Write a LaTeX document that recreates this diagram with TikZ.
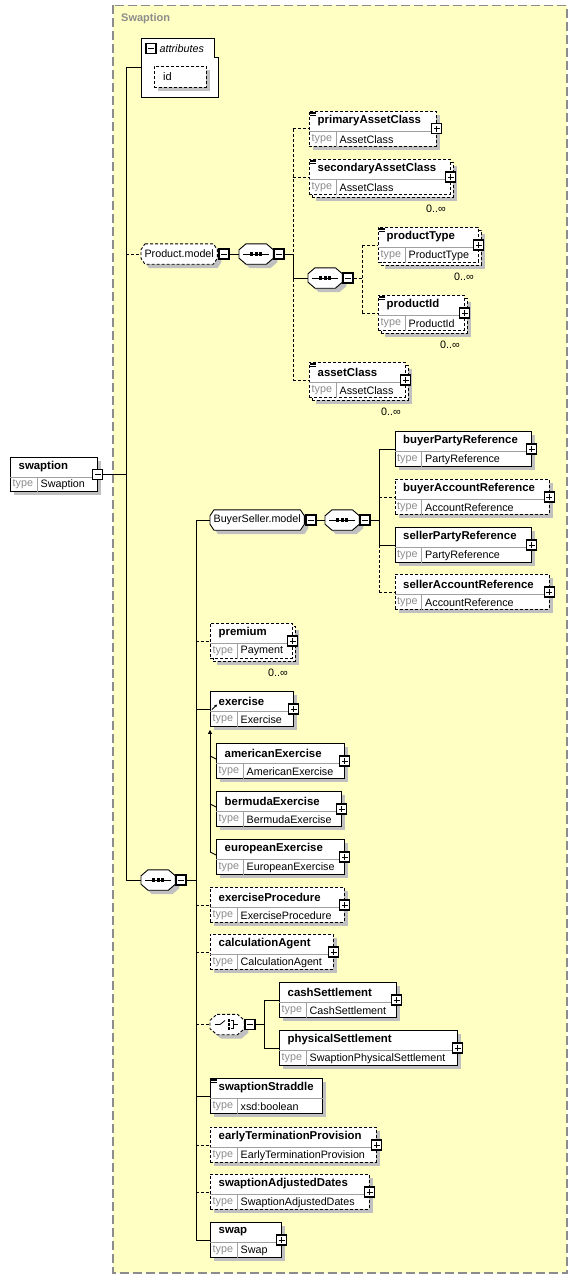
\documentclass[tikz,border=0pt]{standalone}
\usepackage{fontspec}
\setmainfont{Liberation Sans}
\usetikzlibrary{positioning,calc,shadows,arrows.meta}

\definecolor{frameyellow}{HTML}{FFFFC4}
\definecolor{framegray}{HTML}{8C8C8C}
\definecolor{shadowgray}{HTML}{C0C0C0}
\definecolor{typegray}{HTML}{8C8C8C}
\definecolor{linegray}{HTML}{A0A0A0}

% element box: #1 style, #2 name, #3 x, #4 y (top left), #5 width, #6 title, #7 type
\newcommand{\elem}[7][req]{%
  \node[#1,minimum width=#5pt] (#2) at (#3,#4) {};
  \draw[divline] ([yshift=-20pt]#2.north west) -- ([yshift=-20pt]#2.north east);
  \draw[divline] ([xshift=27pt,yshift=-20pt]#2.north west) -- ([xshift=27pt]#2.south west);
  \node[titletext] (#2-t) at ([xshift=8.5pt,yshift=-10pt]#2.north west) {#6};
  \node[typelabel] (#2-l) at ([xshift=2.5pt,yshift=7.5pt]#2.south west) {type};
  \node[typetext] (#2-y) at ([xshift=30.5pt,yshift=7.5pt]#2.south west) {#7};
}
% element with maxOccurs unbounded
\newcommand{\multielem}[6]{%
  \node[opt,minimum width=#4pt] (#1-b) at ({#2+3},{#3+3}) {};
  \elem[optfront]{#1}{#2}{#3}{#4}{#5}{#6}
  \node[occtext] (#1-o) at ([xshift=-15pt,yshift=-13.5pt]#1.south east) {0..∞};
}
\newcommand{\expandbox}[1]{\node[plusbox] (#1-p) at (#1.east) {};}
\newcommand{\simpleicon}[1]{%
  \foreach \dy in {1,2.5,4}
    \draw[line width=0.6pt] ([xshift=1pt,yshift=-\dy pt]#1.north west) -- ++(6,0);
}
\newcommand{\reficon}[1]{%
  \draw[line width=0.8pt,-{Triangle[length=2.5pt,width=2.5pt]}]
    ([xshift=2pt,yshift=-18.5pt]#1.north west) -- ++(5,-5);
}
% octagon outline with shadow round a plain node
\newcommand{\octagon}[4]{%
  \fill[shadowgray,transform canvas={xshift=4pt,yshift=-4pt}]
    ([xshift=#3]#1.north west) -- ([xshift=-#3]#1.north east) -- ([yshift=-#4]#1.north east)
    -- ([yshift=#4]#1.south east) -- ([xshift=-#3]#1.south east) -- ([xshift=#3]#1.south west)
    -- ([yshift=#4]#1.south west) -- ([yshift=-#4]#1.north west) -- cycle;
  \draw[fill=white,line width=0.9pt,#2]
    ([xshift=#3]#1.north west) -- ([xshift=-#3]#1.north east) -- ([yshift=-#4]#1.north east)
    -- ([yshift=#4]#1.south east) -- ([xshift=-#3]#1.south east) -- ([xshift=#3]#1.south west)
    -- ([yshift=#4]#1.south west) -- ([yshift=-#4]#1.north west) -- cycle;
}
% sequence compositor: #1 name, #2 x, #3 y (west)
\newcommand{\seqnode}[3]{%
  \node[grp,minimum width=34pt] (#1) at (#2,#3) {};
  \octagon{#1}{}{7pt}{6pt}
  \draw[line width=0.9pt] ([xshift=4pt]#1.west) -- ([xshift=-4pt]#1.east);
  \foreach \dx in {-4.5,0,4.5}
    \fill ([xshift=\dx pt]#1.center) +(-1.7,-1.7) rectangle +(1.7,1.7);
  \node[minusbox,right=0pt of #1] (#1-m) {};
}
\newcommand{\choiceicon}[1]{%
  \draw[line width=0.8pt] ([xshift=5pt]#1.west) -- ++(5,0) -- ++(5,-4);
  \foreach \dy in {-4,0,4}
    \fill ([xshift=19pt,yshift=\dy pt]#1.west) +(-1.3,-1.3) rectangle +(1.3,1.3);
  \draw[line width=0.8pt] ([xshift=21pt,yshift=4pt]#1.west) -- ++(2,0) -- ++(0,8) -- ++(-2,0)
    ++(2,-4) -- ++(5,0);
}

\begin{document}
\begin{tikzpicture}[x=1pt,y=-1pt,
    every node/.style={inner sep=0pt},
    elembox/.style={draw, fill=white, line width=0.9pt, minimum height=35pt, anchor=north west},
    boxshadow/.style={drop shadow={shadow xshift=4pt, shadow yshift=-4pt, fill=shadowgray, opacity=1}},
    req/.style={elembox, boxshadow},
    opt/.style={elembox, boxshadow, dash pattern=on 3pt off 2pt},
    optfront/.style={elembox, dash pattern=on 3pt off 2pt},
    optline/.style={dash pattern=on 3pt off 2pt},
    conn/.style={line width=0.9pt},
    divline/.style={draw=linegray, line width=0.8pt},
    titletext/.style={anchor=west, font=\fontsize{11.4}{13}\selectfont\bfseries},
    typelabel/.style={anchor=west, text=typegray, font=\fontsize{10.75}{12}\selectfont},
    typetext/.style={anchor=west, font=\fontsize{10.75}{12}\selectfont},
    occtext/.style={font=\fontsize{10.75}{12}\selectfont},
    grp/.style={anchor=west, minimum height=20pt},
    grptext/.style={font=\fontsize{10.75}{12}\selectfont},
    plusbox/.style={draw, fill=white, line width=1.1pt, minimum size=10pt,
      path picture={\draw[line width=0.9pt]
        ([xshift=2pt]path picture bounding box.west) -- ([xshift=-2pt]path picture bounding box.east)
        ([yshift=-2pt]path picture bounding box.north) -- ([yshift=2pt]path picture bounding box.south);}},
    minusbox/.style={draw, fill=white, line width=1.1pt, minimum size=10pt,
      path picture={\draw[line width=0.9pt]
        ([xshift=2pt]path picture bounding box.west) -- ([xshift=-2pt]path picture bounding box.east);}},
    typeframe/.style={draw=framegray, fill=frameyellow, line width=1.3pt, dash pattern=on 9pt off 4pt},
    frametitle/.style={anchor=west, text=framegray, font=\fontsize{11}{13}\selectfont\bfseries}
]
\useasboundingbox (0,0) rectangle (578,1279);

% complex type frame
\draw[typeframe] (113,5.5) rectangle (567,1273);
\node[frametitle] (frame-t) at (121,18.5) {Swaption};

% attributes
\node[minimum width=77pt, minimum height=59pt, anchor=north west] (attrs) at (141,38) {};
\draw[line width=0.9pt, fill=white] (attrs.north west) -- ([xshift=-4pt]attrs.north east)
  -- ([xshift=-4pt,yshift=-19pt]attrs.north east) -- ([yshift=-19pt]attrs.north east)
  -- (attrs.south east) -- (attrs.south west) -- cycle;
\node[minusbox] (attrs-m) at (151,48.5) {};
\node[anchor=west, font=\fontsize{10.75}{12}\selectfont\itshape] (attrs-t) at (159.5,48.5) {attributes};
\node[opt, minimum width=52pt, minimum height=21pt] (id) at (154,66) {};
\node[anchor=west, font=\fontsize{11}{12}\selectfont] (id-t) at (163,76.5) {id};

% global element
\elem[req,minimum height=34pt]{swaption}{10}{457}{87}{swaption}{Swaption}
\node[minusbox] (swaption-m) at (swaption.east) {};

% Product.model
\node[grp,minimum width=76pt] (pmodel) at (141,254) {};
\octagon{pmodel}{optline}{4pt}{6pt}
\node[grptext] (pmodel-t) at (pmodel.center) {Product.model};
\node[minusbox,right=1pt of pmodel] (pmodel-m) {};
\seqnode{pseq}{239}{254}
\elem[opt]{primary}{309}{111}{127}{primaryAssetClass}{AssetClass}
\simpleicon{primary} \expandbox{primary}
\multielem{secondary}{309}{159}{141}{secondaryAssetClass}{AssetClass}
\simpleicon{secondary} \expandbox{secondary}
\seqnode{pseq2}{308}{278}
\multielem{prodtype}{378}{227}{100}{productType}{ProductType}
\simpleicon{prodtype} \expandbox{prodtype}
\multielem{prodid}{378}{295}{86}{productId}{ProductId}
\simpleicon{prodid} \expandbox{prodid}
\multielem{assetcls}{309}{362}{96}{assetClass}{AssetClass}
\simpleicon{assetcls} \expandbox{assetcls}

% main sequence
\seqnode{mainseq}{141}{880}

% BuyerSeller.model
\node[grp,minimum width=94pt] (bsmodel) at (210,520) {};
\octagon{bsmodel}{}{4pt}{6pt}
\node[grptext] (bsmodel-t) at (bsmodel.center) {BuyerSeller.model};
\node[minusbox,right=1pt of bsmodel] (bsmodel-m) {};
\seqnode{bsseq}{325}{520}
\elem{buyerparty}{394.5}{431}{136.5}{buyerPartyReference}{PartyReference}
\expandbox{buyerparty}
\elem[opt]{buyeracct}{394.5}{479}{154}{buyerAccountReference}{AccountReference}
\expandbox{buyeracct}
\elem{sellerparty}{394.5}{527}{136.5}{sellerPartyReference}{PartyReference}
\expandbox{sellerparty}
\elem[opt]{selleracct}{394.5}{574}{154}{sellerAccountReference}{AccountReference}
\expandbox{selleracct}

% children of the main sequence
\multielem{premium}{210}{623}{82}{premium}{Payment}
\expandbox{premium}
\elem{exercise}{210}{691}{83}{exercise}{Exercise}
\reficon{exercise} \expandbox{exercise}
\elem{american}{216}{743}{128}{americanExercise}{AmericanExercise}
\expandbox{american}
\elem{bermuda}{216}{791}{125}{bermudaExercise}{BermudaExercise}
\expandbox{bermuda}
\elem{european}{216}{839}{128}{europeanExercise}{EuropeanExercise}
\expandbox{european}
\elem[opt]{exproc}{210}{887}{134}{exerciseProcedure}{ExerciseProcedure}
\expandbox{exproc}
\elem[opt]{calcagent}{210}{934}{123}{calculationAgent}{CalculationAgent}
\expandbox{calcagent}
\node[grp,minimum width=34pt] (choice) at (210,1024.5) {};
\octagon{choice}{optline}{7pt}{6pt}
\choiceicon{choice}
\node[minusbox,right=0pt of choice] (choice-m) {};
\elem{cash}{279}{982}{117}{cashSettlement}{CashSettlement}
\expandbox{cash}
\elem{physical}{279}{1030}{178}{physicalSettlement}{SwaptionPhysicalSettlement}
\expandbox{physical}
\elem{straddle}{210}{1078}{112}{swaptionStraddle}{xsd:boolean}
\simpleicon{straddle}
\elem[opt]{earlyterm}{210}{1127}{166}{earlyTerminationProvision}{EarlyTerminationProvision}
\expandbox{earlyterm}
\elem[opt]{adjdates}{210}{1174}{159}{swaptionAdjustedDates}{SwaptionAdjustedDates}
\expandbox{adjdates}
\elem{swap}{210}{1222}{71}{swap}{Swap}
\expandbox{swap}

% connectors
\coordinate (busA) at (126,0);
\coordinate (busB) at (293,0);
\coordinate (busC) at (362,0);
\coordinate (busD) at (196,0);
\coordinate (busE) at (379,0);
\coordinate (busF) at (264,0);
\coordinate (subst) at (210,0);

\draw[conn] (swaption-m.east) -- (swaption-m.east -| busA);
\draw[conn] (busA |- attrs.west) -- (busA |- mainseq.west);
\draw[conn] (busA |- attrs.west) -- (attrs.west);
\draw[conn,optline] (busA |- pmodel.west) -- (pmodel.west);
\draw[conn] (busA |- mainseq.west) -- (mainseq.west);

\draw[conn] (pmodel-m) -- (pseq);
\draw[conn] (pseq-m) -- (pseq-m -| busB);
\draw[conn,optline] (busB |- primary.west) -- (busB |- assetcls.west);
\draw[conn] (busB |- pseq) -- (busB |- pseq2);
\draw[conn,optline] (busB |- primary.west) -- (primary.west);
\draw[conn,optline] (busB |- secondary.west) -- (secondary.west);
\draw[conn] (busB |- pseq2) -- (pseq2);
\draw[conn,optline] (busB |- assetcls.west) -- (assetcls.west);
\draw[conn,optline] (pseq2-m) -- (pseq2-m -| busC);
\draw[conn,optline] (busC |- prodtype.west) -- (busC |- prodid.west);
\draw[conn,optline] (busC |- prodtype.west) -- (prodtype.west);
\draw[conn,optline] (busC |- prodid.west) -- (prodid.west);

\draw[conn] (mainseq-m) -- (mainseq-m -| busD);
\draw[conn] (busD |- bsmodel) -- (busD |- swap.west);
\draw[conn] (busD |- bsmodel) -- (bsmodel);
\draw[conn,optline] (busD |- premium.west) -- (premium.west);
\draw[conn] (busD |- exercise.west) -- (exercise.west);
\draw[conn,optline] (busD |- exproc.west) -- (exproc.west);
\draw[conn,optline] (busD |- calcagent.west) -- (calcagent.west);
\draw[conn,optline] (busD |- choice) -- (choice);
\draw[conn] (busD |- straddle.west) -- (straddle.west);
\draw[conn,optline] (busD |- earlyterm.west) -- (earlyterm.west);
\draw[conn,optline] (busD |- adjdates.west) -- (adjdates.west);
\draw[conn] (busD |- swap.west) -- (swap.west);

\draw[conn] (bsmodel-m) -- (bsseq);
\draw[conn] (bsseq-m) -- (bsseq-m -| busE);
\draw[conn] (busE |- buyerparty.west) -- (busE |- sellerparty.west);
\draw[conn,optline] (busE |- sellerparty.west) -- (busE |- selleracct.west);
\draw[conn] (busE |- buyerparty.west) -- (buyerparty.west);
\draw[conn,optline] (busE |- buyeracct.west) -- (buyeracct.west);
\draw[conn] (busE |- sellerparty.west) -- (sellerparty.west);
\draw[conn,optline] (busE |- selleracct.west) -- (selleracct.west);

\draw[conn] (choice-m) -- (choice-m -| busF);
\draw[conn] (busF |- cash.west) -- (busF |- physical.west);
\draw[conn] (busF |- cash.west) -- (cash.west);
\draw[conn] (busF |- physical.west) -- (physical.west);

% substitution group of exercise
\draw[conn,-{Triangle[length=4pt,width=4pt]}] ($(european.west -| subst)+(0,-5)$) -- ([yshift=-3pt]exercise.south west);
\foreach \s in {american,bermuda,european}
  \draw[conn] ($(\s.west -| subst)+(0,-5)$) -- ($(\s.west)+(0,-2)$);
\end{tikzpicture}
\end{document}
